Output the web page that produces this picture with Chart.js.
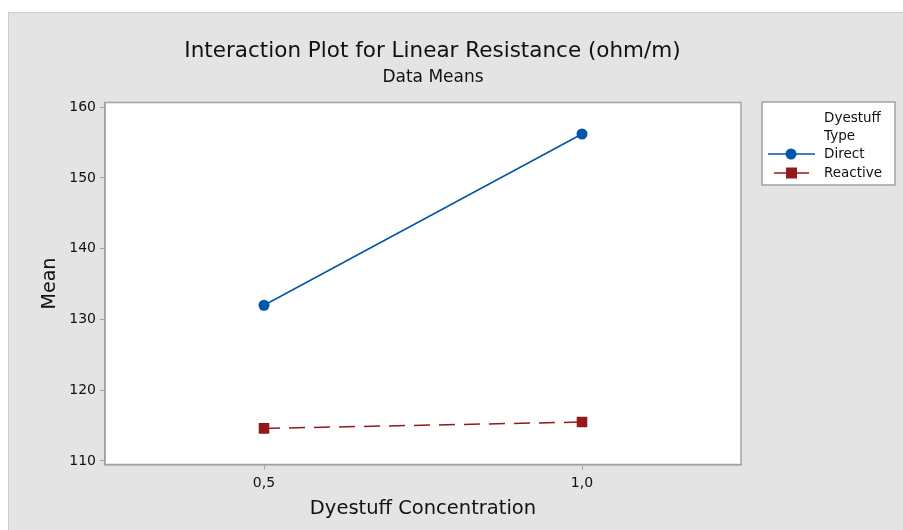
<!DOCTYPE html>
<html>
<head>
<meta charset="utf-8">
<script src="https://cdn.jsdelivr.net/npm/chart.js@4/dist/chart.umd.min.js"></script>
<style>
  html, body { margin:0; padding:0; background:#fff; }
  #wrap { position:absolute; left:8px; top:12px; width:895px; height:518px;
          background:#e4e4e4; border-left:1px solid #cbcbcb; border-top:1px solid #cbcbcb; box-sizing:border-box; }
  canvas { display:block; }
</style>
</head>
<body>
<div id="wrap"><canvas id="chart" width="895" height="518"></canvas></div>
<script>
// Data
const concentrations = ['0,5', '1,0'];
const directMeans   = [132.0, 156.2];
const reactiveMeans = [114.6, 115.5];
const yTicks = [110, 120, 130, 140, 150, 160];

const FONT = "'DejaVu Sans', Verdana, sans-serif";
const BLUE = '#0056a8';
const RED  = '#921a1a';
const AXIS = '#a3a3a3';

// white plot area + frame, titles and the legend box
const frame = {
  id: 'frame',
  beforeDraw(chart) {
    const { ctx, chartArea: a } = chart;
    ctx.save();
    ctx.fillStyle = '#fff';
    ctx.fillRect(a.left, a.top, a.right - a.left, a.bottom - a.top);
    ctx.restore();
  },
  afterDraw(chart) {
    const { ctx, chartArea: a } = chart;
    ctx.save();
    ctx.strokeStyle = AXIS;
    ctx.lineWidth = 1.5;
    ctx.strokeRect(a.left, a.top, a.right - a.left, a.bottom - a.top);

    // titles
    ctx.fillStyle = '#111';
    ctx.textAlign = 'center';
    ctx.textBaseline = 'middle';
    ctx.font = '21.5px ' + FONT;
    ctx.fillText('Interaction Plot for Linear Resistance (ohm/m)', 423.5, 38);
    ctx.font = '17px ' + FONT;
    ctx.fillText('Data Means', 424, 65);

    // legend
    const lx = 753, ly = 89, lw = 133, lh = 83;
    ctx.fillStyle = '#fff';
    ctx.fillRect(lx, ly, lw, lh);
    ctx.strokeStyle = AXIS;
    ctx.lineWidth = 1.5;
    ctx.strokeRect(lx, ly, lw, lh);
    ctx.fillStyle = '#111';
    ctx.textAlign = 'left';
    ctx.font = '13.5px ' + FONT;
    ctx.fillText('Dyestuff', 815, 105);
    ctx.fillText('Type', 815, 123);
    ctx.fillText('Direct', 815, 141);
    ctx.fillText('Reactive', 815, 160);

    ctx.lineWidth = 1.5;
    ctx.strokeStyle = BLUE;
    ctx.beginPath(); ctx.moveTo(759, 141); ctx.lineTo(806, 141); ctx.stroke();
    ctx.fillStyle = BLUE;
    ctx.beginPath(); ctx.arc(782, 141, 5.5, 0, Math.PI * 2); ctx.fill();

    ctx.strokeStyle = RED;
    ctx.beginPath(); ctx.moveTo(765, 160); ctx.lineTo(800, 160); ctx.stroke();
    ctx.fillStyle = RED;
    ctx.fillRect(777, 154.5, 11, 11);
    ctx.restore();
  }
};

new Chart(document.getElementById('chart'), {
  type: 'line',
  data: {
    labels: concentrations,
    datasets: [
      { label: 'Direct', data: directMeans, borderColor: BLUE, backgroundColor: BLUE, borderWidth: 1.5,
        pointStyle: 'circle', pointRadius: 5.5, pointBorderWidth: 0, tension: 0 },
      { label: 'Reactive', data: reactiveMeans, borderColor: RED, backgroundColor: RED, borderWidth: 1.5,
        borderDash: [16, 9], pointStyle: 'rect', pointRadius: 7.5, pointBorderWidth: 0, tension: 0 }
    ]
  },
  options: {
    responsive: false,
    animation: false,
    layout: { padding: { left: 0, top: 89.5, right: 163, bottom: 0 } },
    plugins: { legend: { display: false }, title: { display: false }, tooltip: { enabled: false } },
    scales: {
      x: {
        offset: true,
        afterFit: s => { s.height = 66.5; },
        grid: { drawOnChartArea: false, drawTicks: true, tickLength: 5, color: AXIS, offset: false },
        border: { color: AXIS, width: 1.5 },
        ticks: { color: '#111', padding: 5, font: { family: FONT, size: 14 } },
        title: { display: true, text: 'Dyestuff Concentration', color: '#111', padding: { bottom: 10.5 },
                 font: { family: FONT, size: 19.5 } }
      },
      y: {
        min: 109.5,
        max: 160.65,
        afterFit: s => { s.width = 96; },
        afterBuildTicks: s => { s.ticks = yTicks.map(v => ({ value: v })); },
        grid: { drawOnChartArea: false, drawTicks: true, tickLength: 5, color: AXIS },
        border: { color: AXIS, width: 1.5 },
        ticks: { color: '#111', padding: 4, font: { family: FONT, size: 14 } },
        title: { display: true, text: 'Mean', color: '#111', padding: { top: 29.5 },
                 font: { family: FONT, size: 19 } }
      }
    }
  },
  plugins: [frame]
});
</script>
</body>
</html>
